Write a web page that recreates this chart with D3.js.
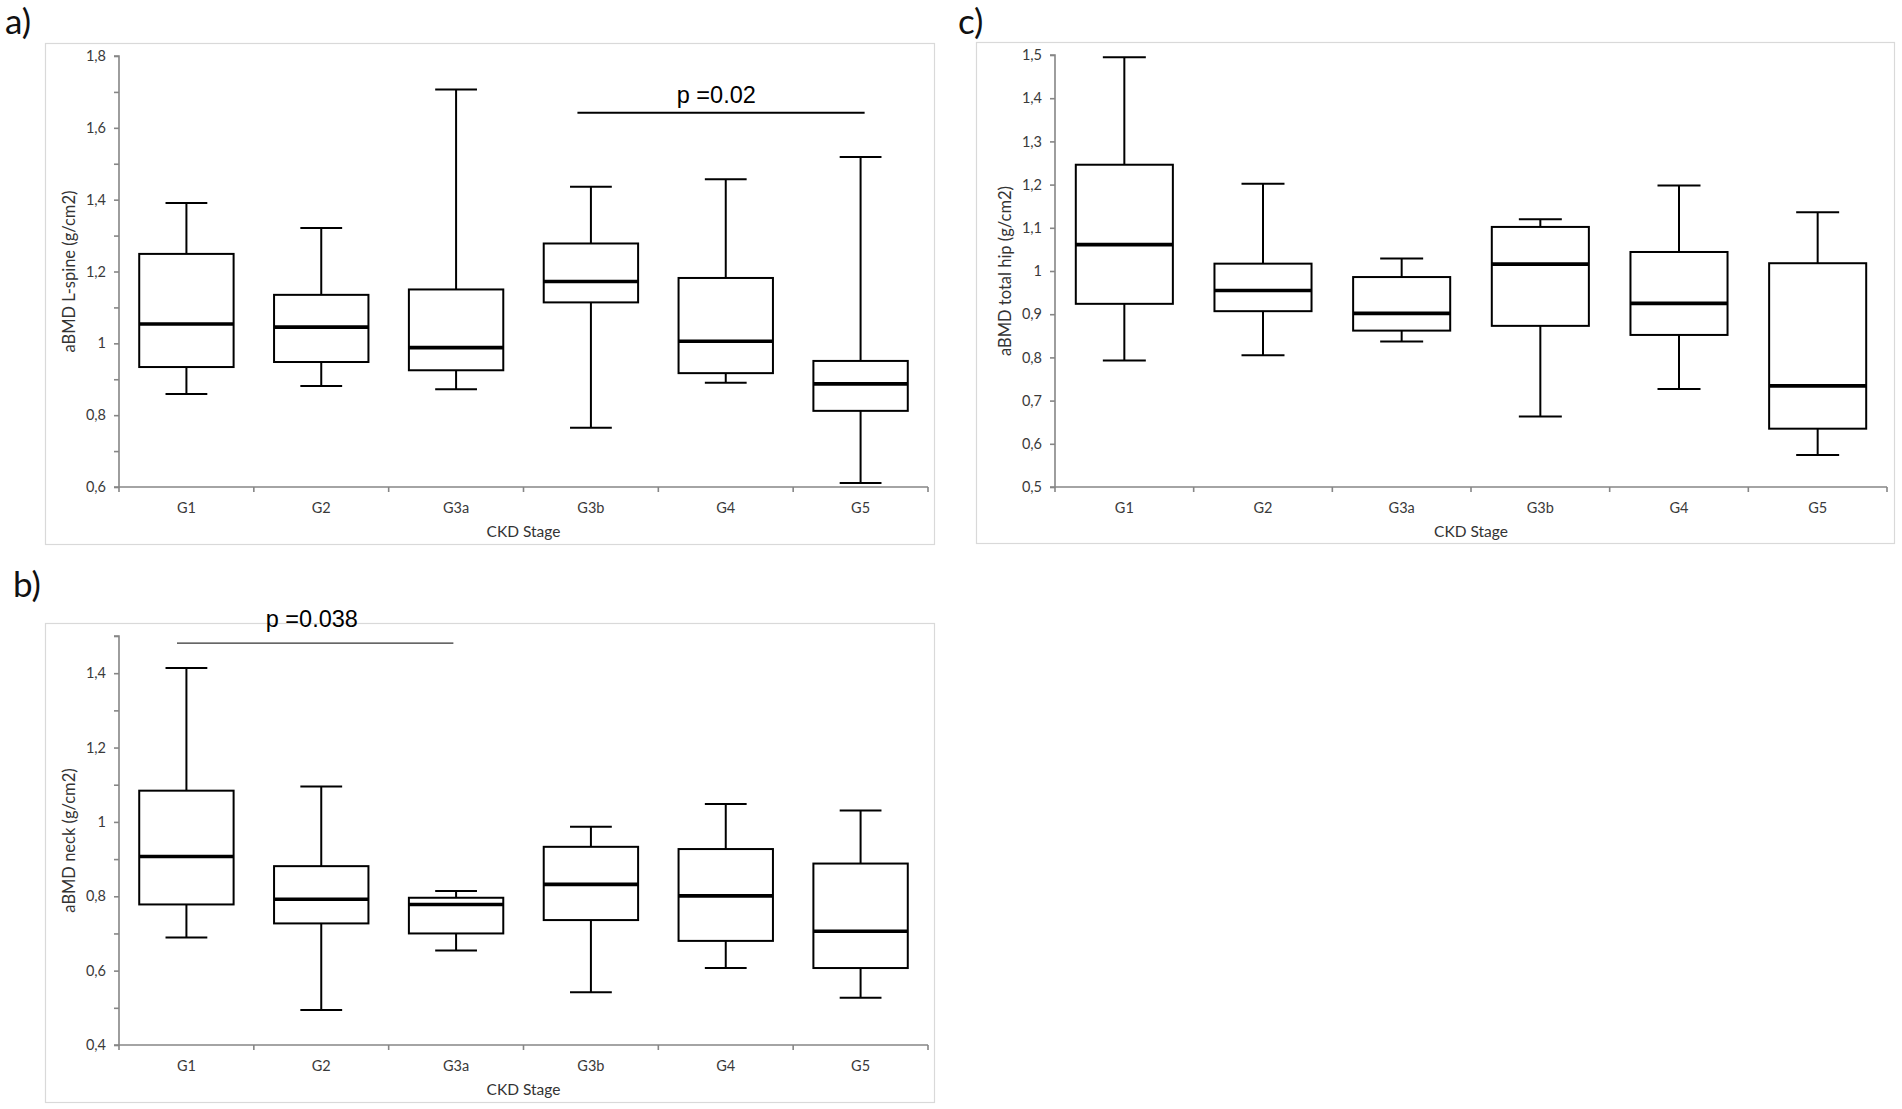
<!DOCTYPE html>
<html>
<head>
<meta charset="utf-8">
<script src="https://cdn.jsdelivr.net/npm/d3@7"></script>
<style>
  html, body { margin: 0; padding: 0; background: #fff; }
  svg { display: block; }
  .muted text { fill: #3a3a3a; }
</style>
</head>
<body>
<div id="chart"></div>
<script>
// categories
const stages = ['G1', 'G2', 'G3a', 'G3b', 'G4', 'G5']

// a) L-spine aBMD (g/cm2) - min, Q1, median, Q3, max
const spineMin = [0.859, 0.881, 0.872, 0.765, 0.890, 0.611]
const spineQ1 = [0.934, 0.948, 0.925, 1.114, 0.917, 0.812]
const spineMedian = [1.054, 1.045, 0.988, 1.172, 1.006, 0.887]
const spineQ3 = [1.249, 1.135, 1.150, 1.278, 1.182, 0.951]
const spineMax = [1.391, 1.321, 1.707, 1.436, 1.457, 1.519]
const spineTicks = [0.6, 0.7, 0.8, 0.9, 1.0, 1.1, 1.2, 1.3, 1.4, 1.5, 1.6, 1.7, 1.8]
const spineLabels = [0.6, 0.8, 1.0, 1.2, 1.4, 1.6, 1.8]

// b) femoral neck aBMD
const neckMin = [0.689, 0.494, 0.654, 0.542, 0.607, 0.527]
const neckQ1 = [0.778, 0.727, 0.700, 0.736, 0.680, 0.607]
const neckMedian = [0.907, 0.792, 0.778, 0.832, 0.801, 0.706]
const neckQ3 = [1.084, 0.881, 0.796, 0.933, 0.927, 0.888]
const neckMax = [1.414, 1.095, 0.814, 0.987, 1.048, 1.031]
const neckTicks = [0.4, 0.5, 0.6, 0.7, 0.8, 0.9, 1.0, 1.1, 1.2, 1.3, 1.4, 1.5]
const neckLabels = [0.4, 0.6, 0.8, 1.0, 1.2, 1.4]

// c) total hip aBMD
const hipMin = [0.793, 0.805, 0.837, 0.663, 0.727, 0.574]
const hipQ1 = [0.924, 0.907, 0.862, 0.873, 0.852, 0.635]
const hipMedian = [1.061, 0.955, 0.902, 1.016, 0.925, 0.734]
const hipQ3 = [1.246, 1.017, 0.986, 1.102, 1.044, 1.018]
const hipMax = [1.495, 1.202, 1.029, 1.120, 1.198, 1.136]
const hipTicks = [0.5, 0.6, 0.7, 0.8, 0.9, 1.0, 1.1, 1.2, 1.3, 1.4, 1.5]

// significance brackets, positions in category units along the axis
const spineSig = {from: 3.4, to: 5.53, y: 1.642, labelX: 4.43, labelY: 1.669, text: 'p =0.02'}
const neckSig = {from: 0.43, to: 2.48, y: 1.481, labelX: 1.43, labelY: 1.524, text: 'p =0.038'}

const FONT = 'Lato, "Open Sans", sans-serif'
const commaFmt = d3.formatLocale({decimal: ',', thousands: '.', grouping: [3], currency: ['', '']})
  .format('.1~f')

const svg = d3.select('#chart')
  .append('svg')
  .attr('width', 1902)
  .attr('height', 1109)

class BoxPanel {
  constructor (parent, opts) {
    this.parent = parent
    this.frame = opts.frame       // [x0, y0, x1, y1] outer chart area
    this.plot = opts.plot         // [x0, x1] of category axis
    this.domain = opts.domain
    this.yRange = opts.yRange     // [bottom, top] pixels
    this.ticks = opts.ticks
    this.labels = opts.labels
    this.yTitle = opts.yTitle
    this.letter = opts.letter
    this.letterPos = opts.letterPos
    this.sig = opts.sig || null
    this.sigWidth = opts.sigWidth || 2
    this.sigColor = opts.sigColor || '#000'

    this.xs = null
    this.ys = null
    this.g = null
  }

  draw (rows) {
    let [fx0, fy0, fx1, fy1] = this.frame
    this.g = this.parent.append('g')

    // outer chart area border
    this.g.append('rect')
      .attr('x', fx0 + 0.5).attr('y', fy0 + 0.5)
      .attr('width', fx1 - fx0).attr('height', fy1 - fy0)
      .attr('fill', '#fff')
      .attr('stroke', '#d9d9d9')
      .attr('stroke-width', 1.2)

    // panel letter
    this.parent.append('text')
      .attr('x', this.letterPos[0])
      .attr('y', this.letterPos[1])
      .style('font-family', FONT)
      .style('font-size', '35px')
      .attr('fill', '#111')
      .text(this.letter)

    this.xs = d3.scaleBand().domain(stages).range(this.plot).padding(0)
    this.ys = d3.scaleLinear().domain(this.domain).range(this.yRange)

    this._drawAxes()
    this._drawBoxes(rows)
    if (this.sig) this._drawSig()
  }

  _drawAxes () {
    let bottom = this.yRange[0]
    let left = this.plot[0]

    // y axis, minor ticks unlabeled
    let yAxis = d3.axisLeft(this.ys)
      .tickValues(this.ticks)
      .tickSize(5)
      .tickPadding(8)
      .tickFormat((d) => this.labels.some((v) => Math.abs(v - d) < 1e-6) ? commaFmt(d) : '')

    this.g.append('g')
      .classed('y axis muted', true)
      .attr('transform', `translate(${left},0)`)
      .call(yAxis)
      .call((g) => g.select('.domain').attr('d', `M-5,${this.ys.range()[1]}H0V${bottom}H-5`))
      .call((g) => g.selectAll('line, .domain').attr('stroke', '#868686').attr('stroke-width', 1.6))
      .call((g) => g.selectAll('text')
        .style('font-family', FONT)
        .style('font-size', '14.5px'))

    // category axis with ticks on band boundaries
    let bounds = stages.map((s) => this.xs(s)).concat([this.plot[1]])
    let xg = this.g.append('g').classed('x axis muted', true)
    xg.append('line')
      .attr('x1', this.plot[0]).attr('x2', this.plot[1])
      .attr('y1', bottom).attr('y2', bottom)
      .attr('stroke', '#868686').attr('stroke-width', 1.6)
    xg.selectAll('.tick')
      .data(bounds)
      .enter()
      .append('line')
      .attr('x1', (d) => d).attr('x2', (d) => d)
      .attr('y1', bottom).attr('y2', bottom + 5)
      .attr('stroke', '#868686').attr('stroke-width', 1.6)
    xg.selectAll('.cat')
      .data(stages)
      .enter()
      .append('text')
      .attr('x', (d) => this.xs(d) + this.xs.bandwidth() / 2)
      .attr('y', bottom + 26)
      .attr('text-anchor', 'middle')
      .style('font-family', FONT)
      .style('font-size', '14.5px')
      .text((d) => d)

    // axis titles
    this.g.append('text')
      .classed('axis-label', true)
      .attr('x', (this.plot[0] + this.plot[1]) / 2)
      .attr('y', bottom + 50)
      .attr('text-anchor', 'middle')
      .attr('fill', '#333')
      .style('font-family', FONT)
      .style('font-size', '15.5px')
      .text('CKD Stage')

    let midY = (this.yRange[0] + this.yRange[1]) / 2
    this.g.append('text')
      .classed('axis-label', true)
      .attr('transform', `translate(${left - 44},${midY}) rotate(-90)`)
      .attr('text-anchor', 'middle')
      .attr('fill', '#333')
      .style('font-family', FONT)
      .style('font-size', '16.5px')
      .text(this.yTitle)
  }

  _drawBoxes (rows) {
    let bw = this.xs.bandwidth()
    let boxW = bw * 0.7
    let capW = bw * 0.31
    let cx = (d) => this.xs(d.stage) + bw / 2

    let box = this.g.append('g').classed('boxes', true)
      .selectAll('.box')
      .data(rows)
      .enter()
      .append('g')
      .classed('box', true)

    // whiskers
    box.append('line')
      .attr('x1', cx).attr('x2', cx)
      .attr('y1', (d) => this.ys(d.max)).attr('y2', (d) => this.ys(d.q3))
    box.append('line')
      .attr('x1', cx).attr('x2', cx)
      .attr('y1', (d) => this.ys(d.q1)).attr('y2', (d) => this.ys(d.min))
    box.append('line')
      .attr('x1', (d) => cx(d) - capW / 2).attr('x2', (d) => cx(d) + capW / 2)
      .attr('y1', (d) => this.ys(d.max)).attr('y2', (d) => this.ys(d.max))
    box.append('line')
      .attr('x1', (d) => cx(d) - capW / 2).attr('x2', (d) => cx(d) + capW / 2)
      .attr('y1', (d) => this.ys(d.min)).attr('y2', (d) => this.ys(d.min))
    box.selectAll('line')
      .attr('stroke', '#000')
      .attr('stroke-width', 2)

    // box
    box.append('rect')
      .attr('x', (d) => cx(d) - boxW / 2)
      .attr('width', boxW)
      .attr('y', (d) => this.ys(d.q3))
      .attr('height', (d) => this.ys(d.q1) - this.ys(d.q3))
      .attr('fill', '#fff')
      .attr('stroke', '#000')
      .attr('stroke-width', 2)

    // median
    box.append('line')
      .attr('x1', (d) => cx(d) - boxW / 2).attr('x2', (d) => cx(d) + boxW / 2)
      .attr('y1', (d) => this.ys(d.median)).attr('y2', (d) => this.ys(d.median))
      .attr('stroke', '#000')
      .attr('stroke-width', 3.6)
  }

  _drawSig () {
    let bw = this.xs.bandwidth()
    let pos = (p) => this.plot[0] + p * bw
    let s = this.sig
    this.g.append('line')
      .attr('x1', pos(s.from)).attr('x2', pos(s.to))
      .attr('y1', this.ys(s.y)).attr('y2', this.ys(s.y))
      .attr('stroke', this.sigColor)
      .attr('stroke-width', this.sigWidth)
    this.g.append('text')
      .attr('x', pos(s.labelX))
      .attr('y', this.ys(s.labelY))
      .attr('text-anchor', 'middle')
      .style('font-family', '"Liberation Sans", Arial, sans-serif')
      .style('font-size', '23.5px')
      .attr('fill', '#000')
      .text(s.text)
  }
}

function rowsOf (mins, q1s, meds, q3s, maxs) {
  return stages.map((s, i) => ({stage: s, min: mins[i], q1: q1s[i], median: meds[i], q3: q3s[i], max: maxs[i]}))
}

new BoxPanel(svg, {
  frame: [45, 43, 934, 544],
  plot: [119, 928],
  domain: [0.6, 1.8],
  yRange: [487, 56],
  ticks: spineTicks,
  labels: spineLabels,
  yTitle: 'aBMD L-spine (g/cm2)',
  letter: 'a)',
  letterPos: [5, 34],
  sig: spineSig,
  sigWidth: 2.2
}).draw(rowsOf(spineMin, spineQ1, spineMedian, spineQ3, spineMax))

new BoxPanel(svg, {
  frame: [45, 623, 934, 1102],
  plot: [119, 928],
  domain: [0.4, 1.5],
  yRange: [1045, 636],
  ticks: neckTicks,
  labels: neckLabels,
  yTitle: 'aBMD neck (g/cm2)',
  letter: 'b)',
  letterPos: [13, 597],
  sig: neckSig,
  sigWidth: 1.3,
  sigColor: '#333'
}).draw(rowsOf(neckMin, neckQ1, neckMedian, neckQ3, neckMax))

new BoxPanel(svg, {
  frame: [976, 42, 1894, 543],
  plot: [1055, 1887],
  domain: [0.5, 1.5],
  yRange: [487, 55],
  ticks: hipTicks,
  labels: hipTicks,
  yTitle: 'aBMD total hip (g/cm2)',
  letter: 'c)',
  letterPos: [958, 34]
}).draw(rowsOf(hipMin, hipQ1, hipMedian, hipQ3, hipMax))
</script>
</body>
</html>
